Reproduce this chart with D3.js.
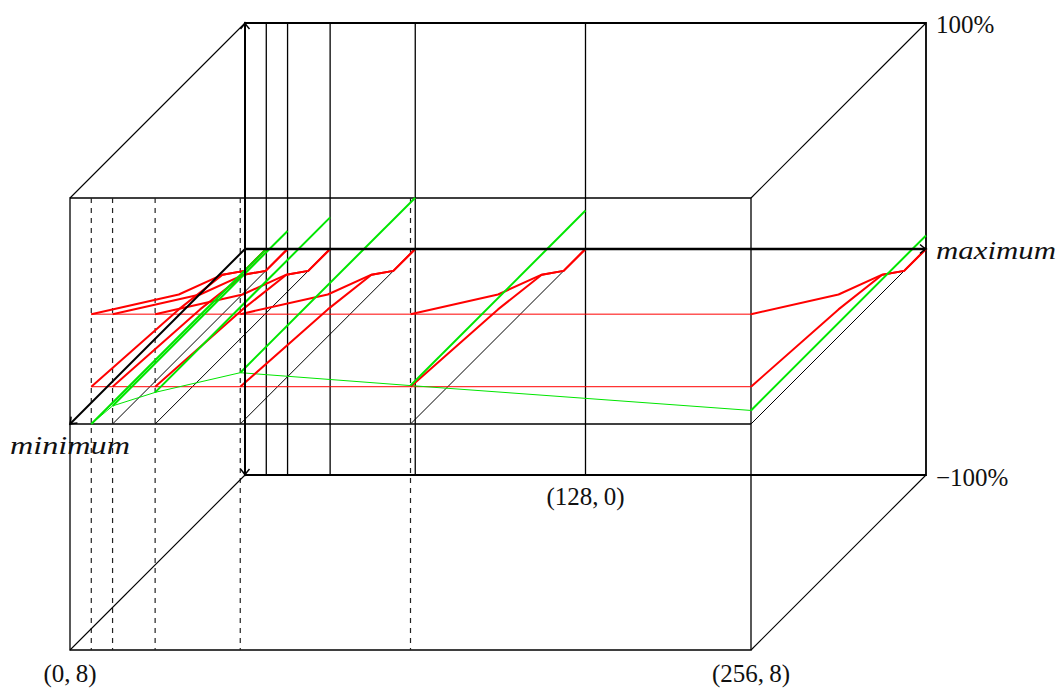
<!DOCTYPE html>
<html>
<head>
<meta charset="utf-8">
<script src="https://cdn.jsdelivr.net/npm/d3@7"></script>
<style>
  body { margin: 0; background: #fff; }
  svg text { font-family: "Liberation Serif", "DejaVu Serif", serif; fill: #111; }
</style>
</head>
<body>
<div id="chart"></div>
<script>
// x ticks (columns) and the bit-depth axis
const xTicks = [8, 16, 32, 64, 128, 256];
const depths = [8, 4, 2, 1, 0];

// red curves over depth, same for every column (percent)
const redUpper = [48.6, 18.6, 8, 0, 0];
const redLower = [16.5, 12, 8, 0, 0];

// green level per column (percent), constant over depth
const greenLevel = [0, 8, 14, 22.7, 17, 6];

const cornerLabels = ['(0,\u20098)', '(256,\u20098)', '(128,\u20090)'];
const zLabels = ['100%', '\u2212100%'];

const W = 1063, H = 690;
const svg = d3.select('#chart').append('svg')
  .attr('width', W).attr('height', H);

const sx = d3.scaleLinear().domain([0, 256]).range([70, 751]);
const sz = d3.scaleLinear().domain([-100, 100]).range([650, 198]);
const off = d3.scaleLinear().domain([8, 0]).range([0, 175]);

const P = (x, d, z) => [sx(x) + off(d), sz(z) - off(d)];

const defs = svg.append('defs');
defs.append('marker')
  .attr('id', 'arr')
  .attr('viewBox', '-8 -6 10 12')
  .attr('markerUnits', 'userSpaceOnUse')
  .attr('markerWidth', 10).attr('markerHeight', 12)
  .attr('refX', 0).attr('refY', 0)
  .attr('orient', 'auto-start-reverse')
  .append('path')
  .attr('d', 'M-6,-4.5 Q-2,-1 0,0 Q-2,1 -6,4.5')
  .attr('fill', 'none').attr('stroke', '#000').attr('stroke-width', 1.5);

const seg = (a, b, w, color) => svg.append('line')
  .attr('x1', a[0]).attr('y1', a[1]).attr('x2', b[0]).attr('y2', b[1])
  .attr('stroke', color || '#000').attr('stroke-width', w);

const path = d3.line();

// front face
svg.append('path')
  .attr('d', path([P(0, 8, 100), P(256, 8, 100), P(256, 8, -100), P(0, 8, -100)]) + 'Z')
  .attr('fill', 'none').attr('stroke', '#000').attr('stroke-width', 1.3);

// dashed verticals on front face
xTicks.slice(0, 5).forEach(x => {
  seg(P(x, 8, 100), P(x, 8, -100), 1.2, '#222').attr('stroke-dasharray', '5,5');
});

// connecting edges
[[0, 100], [256, 100], [256, -100], [0, -100]].forEach(([x, z]) => {
  seg(P(x, 8, z), P(x, 0, z), 1.1);
});

// back face
svg.append('path')
  .attr('d', path([P(0, 0, 100), P(256, 0, 100), P(256, 0, -100), P(0, 0, -100)]) + 'Z')
  .attr('fill', 'none').attr('stroke', '#000').attr('stroke-width', 1.8);

// back verticals
xTicks.slice(0, 5).forEach(x => seg(P(x, 0, 100), P(x, 0, -100), 1.3));

// z = 0 plane: front line and depth lines
seg(P(0, 8, 0), P(256, 8, 0), 1.3);
xTicks.forEach(x => seg(P(x, 8, 0), P(x, 0, 0), 1));

// thin front connectors
const red = '#ff0000', green = '#00e600';
[redUpper, redLower].forEach(r => {
  svg.append('path')
    .attr('d', path(xTicks.map(x => P(x, 8, r[0]))))
    .attr('fill', 'none').attr('stroke', red).attr('stroke-width', 1);
});
svg.append('path')
  .attr('d', path(xTicks.map((x, i) => P(x, 8, greenLevel[i]))))
  .attr('fill', 'none').attr('stroke', green).attr('stroke-width', 1);

// red curves along depth
xTicks.forEach(x => {
  [redUpper, redLower].forEach(r => {
    svg.append('path')
      .attr('d', path(depths.map((d, j) => P(x, d, r[j]))))
      .attr('fill', 'none').attr('stroke', red)
      .attr('stroke-width', 2).attr('stroke-linejoin', 'round');
  });
});

// green lines along depth
xTicks.forEach((x, i) => {
  svg.append('path')
    .attr('d', path([P(x, 8, greenLevel[i]), P(x, 0, greenLevel[i])]))
    .attr('fill', 'none').attr('stroke', green).attr('stroke-width', 2);
});

// axes
seg(P(0, 0, 0), P(256, 0, 0), 2.4).attr('marker-end', 'url(#arr)');
seg(P(0, 0, 0), P(0, 8, 0), 2).attr('marker-end', 'url(#arr)');
seg(P(0, 0, -100), P(0, 0, 100), 2)
  .attr('marker-start', 'url(#arr)').attr('marker-end', 'url(#arr)');

// labels
const fs = 25;
const label = (t, pos, anchor, italic, len) => {
  const el = svg.append('text')
    .attr('x', pos[0]).attr('y', pos[1])
    .attr('text-anchor', anchor)
    .attr('dominant-baseline', 'central')
    .attr('font-size', fs)
    .text(t);
  if (italic) el.attr('font-style', 'italic');
  if (len) el.attr('textLength', len).attr('lengthAdjust', 'spacingAndGlyphs');
  return el;
};

const p08 = P(0, 8, -100), p2568 = P(256, 8, -100), p1280 = P(128, 0, -100);
label(cornerLabels[0], [p08[0], p08[1] + 23], 'middle');
label(cornerLabels[1], [p2568[0], p2568[1] + 23], 'middle');
label(cornerLabels[2], [p1280[0], p1280[1] + 21], 'middle');

const pTop = P(256, 0, 100), pBot = P(256, 0, -100), pMax = P(256, 0, 0);
label(zLabels[0], [pTop[0] + 10, pTop[1] + 1], 'start');
label(zLabels[1], [pBot[0] + 10, pBot[1] + 2], 'start');
label('maximum', [pMax[0] + 10, pMax[1] + 1], 'start', true, 120);
const pMin = P(0, 8, 0);
label('minimum', [pMin[0], pMin[1] + 21], 'middle', true, 120);
</script>
</body>
</html>
